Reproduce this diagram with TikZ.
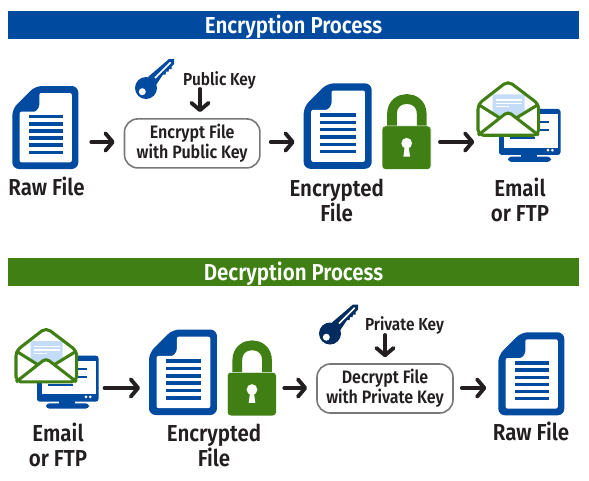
\documentclass[tikz,border=0pt]{standalone}
\usepackage{fontspec}
\setmainfont{Fira Sans SemiBold}[FakeStretch=0.89]
\usepackage{xcolor}
\usepackage{tikz}
\usetikzlibrary{arrows.meta,positioning,calc}
\definecolor{docblue}{RGB}{0,74,159}
\definecolor{navy}{RGB}{0,44,95}
\definecolor{lockgreen}{RGB}{63,127,20}
\definecolor{inkdark}{RGB}{35,31,32}
\definecolor{paleblue}{RGB}{196,220,248}
\definecolor{boxgrey}{RGB}{120,120,120}
\newcommand{\labelfont}{\fontsize{17.3}{18.75}\selectfont}
\newcommand{\boxfont}{\fontsize{13.5}{14.8}\selectfont}
\newcommand{\keyfont}{\fontsize{13}{14}\selectfont}
\tikzset{
  % icons, drawn from their top left corner
  docicon/.pic={
    \fill[docblue,rounded corners=5pt] (0,23)--(23,0)--(66,0)--(66,83)--(0,83)--cycle;
    \fill[white,rounded corners=1.5pt] (7.3,25.7)--(19.7,25.7) .. controls (24,25.7) and (27,22) .. (27,17)--(27,7)--(59.5,7)--(59.5,76.3)--(7.3,76.3)--cycle;
    \foreach \r in {0,...,5}
      \fill[docblue] (16.3,29+\r*7.12) rectangle (50.7,32.4+\r*7.12);
  },
  lockicon/.pic={
    \draw[lockgreen,line width=7.3pt] (10,34)--(10,20) .. controls (10,0) and (39.7,0) .. (39.7,20)--(39.7,34);
    \filldraw[fill=lockgreen,draw=white,line width=0.4pt,rounded corners=2.5pt] (0,32) rectangle (49,75.5);
    \fill[white] (24.7,49.3) circle (5.4);
    \fill[white] (23,50)--(26.4,50)--(28,62.7)--(21.4,62.7)--cycle;
  },
  keyicon/.pic={
    \fill[pic actions] (0,0) circle (11);
    \fill[pic actions] (2,-11)--(23,-29)--(28,-29)--(28,-24)--(25.5,-21.5)--(25.5,-19)--(23,-19)--(22.5,-16.5)
      --(20,-16.5)--(19.5,-13.5)--(17,-13.5)--(10,-3)--cycle;
    \draw[white,line width=1.2pt] (9,-10)--(24.7,-25.7);
    \fill[white] (-3.7,3.7) circle (3.5);
  },
  emailicon/.pic={
    % monitor
    \fill[docblue,rounded corners=2pt] (21.7,28.3) rectangle (83.2,74.3);
    \fill[docblue] (43.7,73)rectangle(59.7,78);
    \fill[docblue,rounded corners=2.5pt] (30.7,76) rectangle (73.7,81.3);
    \fill[white] (26.4,33.6) rectangle (80.4,67);
    \foreach \a/\b/\c in {62.7/71.7/41.3,62.7/71.7/49.6,33/58/57.6}
      \fill[docblue] (\a,\c-1) rectangle (\b,\c+1);
    \fill[white] (70.7,69.6) circle (1.5) (75,69.6) circle (1.5);
    % envelope
    \fill[white,rounded corners=2pt] (0.7,23.6)--(30.7,0.3)--(61.4,23.6)--(61.4,54.6)--(0.7,54.6)--cycle;
    \fill[paleblue,rounded corners=1pt] (15.4,13.7)--(47.4,13.7)--(47.4,32.8)--(39,37)--(30.7,31.3)--(22,37)--(15.4,32.8)--cycle;
    \draw[white,line width=1pt] (18.7,19.3)--(44.7,19.3) (18.7,22.6)--(44.7,22.6) (18.7,26)--(31.4,26);
    \draw[lockgreen,line width=2.3pt,line join=round] (0.7,23.6)--(22,37) (61.4,23.6)--(39.5,37);
    \draw[lockgreen,line width=2.3pt,rounded corners=3pt] (0.7,54.6)--(30.7,31)--(61.4,54.6);
    \draw[lockgreen,line width=2.3pt,rounded corners=4pt] (0.7,23.6)--(30.7,0.3)--(61.4,23.6)--(61.4,54.6)--(0.7,54.6)--cycle;
  },
  iconbox/.style={inner sep=0pt,outer sep=0pt,minimum width=#1},
  docbox/.style={iconbox=49.5pt,minimum height=62.25pt},
  lockbox/.style={iconbox=36.75pt,minimum height=56.6pt},
  emailbox/.style={iconbox=62.4pt,minimum height=61pt},
  banner/.style={fill=#1,text=white,inner sep=0pt,minimum width=428.25pt,minimum height=21pt,
    text depth=2pt,text height=14pt,font=\fontsize{17.3}{18}\selectfont},
  actionbox/.style={draw=boxgrey,line width=1.2pt,rounded corners=10pt,inner sep=0pt,align=center,
    minimum height=36.75pt,text=inkdark,font=\boxfont},
  caption/.style={text=inkdark,inner sep=0pt,align=center,font=\labelfont},
  keylabel/.style={text=inkdark,inner sep=0pt,anchor=base,font=\keyfont},
  flow/.style={draw=inkdark,line width=2.9pt,line cap=round,-{Straight Barb[length=5.5pt,width=13pt,round]}},
}
\begin{document}
\begin{tikzpicture}[x=0.75pt,y=-0.75pt]
\useasboundingbox (0,0) rectangle (589,480);
\coordinate (encline) at (0,142);
\coordinate (decline) at (0,388);
% encryption row
\node[banner=docblue] (enchead) at (293.5,25) {Encryption Process};
\node[docbox] (rawdoc) at (45.3,127.5) {};
\pic at (rawdoc.north west) {docicon};
\node[caption,anchor=base] (rawname) at (46.5,195) {Raw File};
\pic[fill=docblue] at (146,88) {keyicon};
\node[keylabel] (publabel) at (219.5,85) {Public Key};
\node[actionbox,minimum width=101.6pt] (encbox) at (192.2,143.4) {Encrypt File\\with Public Key};
\node[docbox,minimum width=51pt,minimum height=64.5pt] (encdoc) at (337.7,126.3) {};
\pic[scale=1.03] at (encdoc.north west) {docicon};
\node[lockbox] (enclock) at (406.5,131.7) {};
\pic at (enclock.north west) {lockicon};
\node[caption] (encname) at (336.7,200.5) {Encrypted\\File};
\node[emailbox] (encmail) at (518.9,121.3) {};
\pic at (encmail.north west) {emailicon};
\node[caption] (encmailname) at (520,200) {Email\\or FTP};
\coordinate (pubin) at (200,89);
\draw[flow,shorten <=9.75pt,shorten >=6.75pt] (rawdoc.east |- encline) -- (encbox.west |- encline);
\draw[flow,shorten <=7.5pt,shorten >=6.75pt] (encbox.east |- encline) -- (encdoc.west |- encline);
\draw[flow,shorten <=6.75pt,shorten >=2.25pt] (enclock.east |- encline) -- (encmail.west |- encline);
\draw[flow,shorten >=4.5pt] (pubin) -- (pubin |- encbox.north);
% decryption row
\node[banner=lockgreen] (dechead) at (293.5,272) {Decryption Process};
\node[emailbox] (decmail) at (56.9,368) {};
\pic at (decmail.north west) {emailicon};
\node[caption] (decmailname) at (58,445) {Email\\or FTP};
\node[docbox,minimum width=51pt,minimum height=64.5pt] (decdoc) at (183,372.5) {};
\pic[scale=1.03] at (decdoc.north west) {docicon};
\node[lockbox] (declock) at (251.8,378) {};
\pic at (declock.north west) {lockicon};
\node[caption] (decname) at (214,445.5) {Encrypted\\File};
\pic[fill=navy] at (330,333.5) {keyicon};
\node[keylabel] (privlabel) at (404.5,330) {Private Key};
\node[actionbox,minimum width=102pt] (decbox) at (385,388.5) {Decrypt File\\with Private Key};
\node[docbox] (rawback) at (531.3,373.8) {};
\pic at (rawback.north west) {docicon};
\node[caption,anchor=base] (rawbackname) at (531,440.5) {Raw File};
\coordinate (privin) at (385,335);
\draw[flow,shorten <=4.5pt,shorten >=6.75pt] (decmail.east |- decline) -- (decdoc.west |- decline);
\draw[flow,shorten <=6pt,shorten >=6.75pt] (declock.east |- decline) -- (decbox.west |- decline);
\draw[flow,shorten <=6pt,shorten >=9pt] (decbox.east |- decline) -- (rawback.west |- decline);
\draw[flow,shorten >=4.5pt] (privin) -- (privin |- decbox.north);
\end{tikzpicture}
\end{document}
